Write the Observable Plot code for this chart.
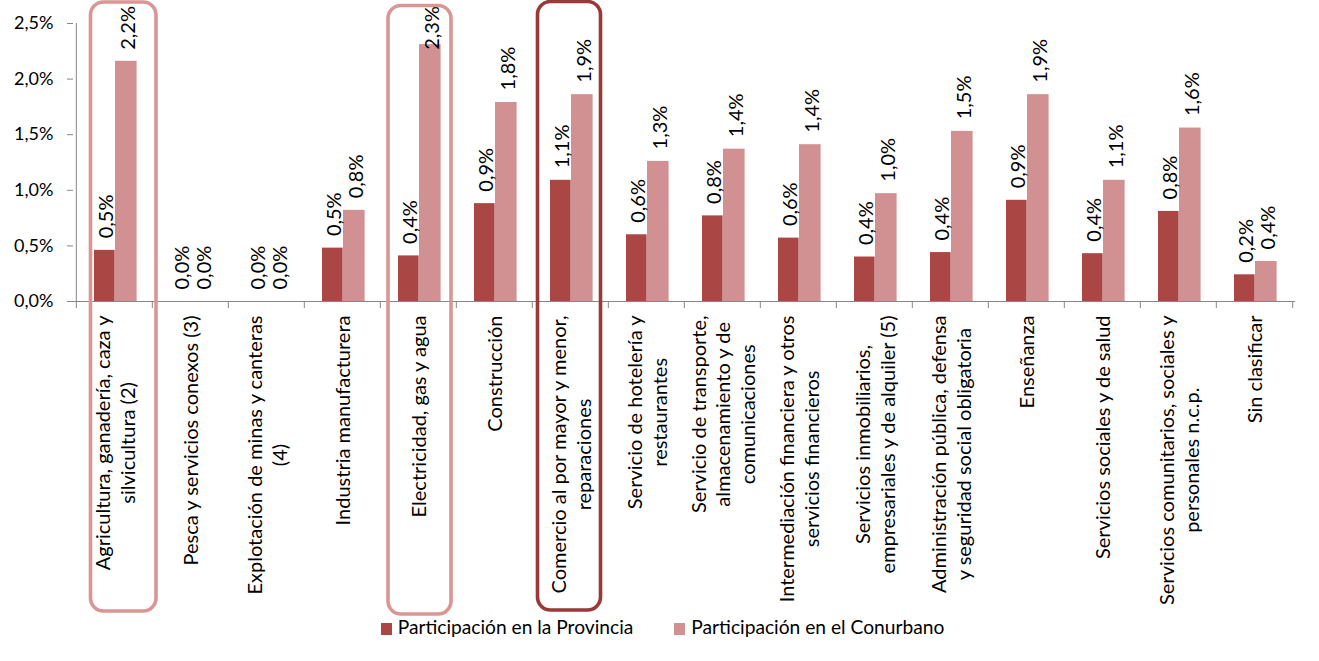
<!DOCTYPE html>
<html><head><meta charset="utf-8">
<script src="https://cdn.jsdelivr.net/npm/d3@7"></script>
<script src="https://cdn.jsdelivr.net/npm/@observablehq/plot@0.6"></script>
<style>
html,body{margin:0;padding:0;background:#fff;}
#chart{width:1319px;position:relative;}
.legend{display:flex;justify-content:center;gap:41px;padding-left:6px;margin-top:-5px;font-family:Lato,sans-serif;font-size:19.2px;line-height:24px;color:#000;}
.legend .item{display:flex;align-items:center;}
.legend .sw{width:11px;height:12px;margin-right:6px;position:relative;top:2px;}
</style></head><body>
<div id="chart"></div>
<script>
// ---- data ----
const categories = [
  "Agricultura, ganadería, caza y\nsilvicultura (2)",
  "Pesca y servicios conexos (3)",
  "Explotación de minas y canteras\n(4)",
  "Industria manufacturera",
  "Electricidad, gas y agua",
  "Construcción",
  "Comercio al por mayor y menor,\nreparaciones",
  "Servicio de hotelería y\nrestaurantes",
  "Servicio de transporte,\nalmacenamiento y de\ncomunicaciones",
  "Intermediación financiera y otros\nservicios financieros",
  "Servicios inmobiliarios,\nempresariales y de alquiler (5)",
  "Administración pública, defensa\ny seguridad social obligatoria",
  "Enseñanza",
  "Servicios sociales y de salud",
  "Servicios comunitarios, sociales y\npersonales n.c.p.",
  "Sin clasificar"
];
const provincia = [0.46, 0, 0, 0.48, 0.41, 0.88, 1.09, 0.60, 0.77, 0.57, 0.40, 0.44, 0.91, 0.43, 0.81, 0.24];
const conurbano = [2.16, 0, 0, 0.82, 2.31, 1.79, 1.86, 1.26, 1.37, 1.41, 0.97, 1.53, 1.86, 1.09, 1.56, 0.36];
const seriesNames = ["Participación en la Provincia", "Participación en el Conurbano"];
const yTicks = [0, 0.5, 1, 1.5, 2, 2.5];
const highlightIndex = [0, 4, 6];

// ---- styles / layout ----
const seriesColors = ["#AA4644", "#D19192"];
const boxColors = ["#D99694", "#D99694", "#993A38"];
const boxInsets = [
  {top: -21, bottom: -310, left: 14.5, right: -4},
  {top: -17.5, bottom: -313, left: 8, right: 5},
  {top: -21.5, bottom: -309, left: 5.5, right: 7.5}
];
const W = 1319, H = 620;
const mL = 73, mR = 24, mT = 23, yBase = 301;
const bw = (W - mL - mR) / categories.length;
const pxPerUnit = (yBase - mT) / 2.5;
const axisColor = "#868686";
const fmt = v => v.toFixed(1).replace(".", ",") + "%";

const prov = categories.map((c, i) => ({cat: c, value: provincia[i]}));
const conu = categories.map((c, i) => ({cat: c, value: conurbano[i]}));

const barSpec = [
  {data: prov, color: seriesColors[0], l: 18, r: 39},
  {data: conu, color: seriesColors[1], l: 39, r: 61}
];

const marks = [];
barSpec.forEach(s => {
  marks.push(Plot.barY(s.data, {x: "cat", y: "value", fill: s.color, insetLeft: s.l, insetRight: bw - s.r}));
});
barSpec.forEach(s => {
  marks.push(Plot.text(s.data, {x: "cat", y: "value", text: d => fmt(d.value), rotate: -90,
    textAnchor: "start", lineAnchor: "middle", dy: -12, dx: (s.l + s.r) / 2 - bw / 2 + 2, fontSize: 20, fill: "#000"}));
});
// axes lines
marks.push(Plot.ruleY([0], {stroke: axisColor, strokeWidth: 1}));
marks.push(Plot.ruleX([categories[0]], {y1: 0, y2: 2.5, dx: -bw / 2, stroke: axisColor}));
marks.push(Plot.ruleX(categories, {y1: 0, y2: -7 / pxPerUnit, dx: -bw / 2, stroke: axisColor}));
marks.push(Plot.ruleX([categories[categories.length - 1]], {y1: 0, y2: -7 / pxPerUnit, dx: bw / 2, stroke: axisColor}));
marks.push(Plot.axisY({ticks: yTicks, tickFormat: fmt, tickSize: 6, tickPadding: 14, stroke: axisColor, fill: "#000", fontSize: 18, label: null}));
// category labels
marks.push(Plot.text(categories, {x: d => d, text: d => d, frameAnchor: "bottom", dy: 14, rotate: -90,
  textAnchor: "end", lineAnchor: "middle", lineHeight: 1.22, fontSize: 20, fill: "#000"}));
// highlight boxes
highlightIndex.forEach((ci, k) => {
  const b = boxInsets[k];
  marks.push(Plot.cell([categories[ci]], {x: d => d, fill: "none", stroke: boxColors[k], strokeWidth: 3.6,
    rx: 13, insetTop: b.top, insetBottom: b.bottom, insetLeft: b.left, insetRight: b.right}));
});

const chart = Plot.plot({
  width: W, height: H,
  marginLeft: mL, marginRight: mR, marginTop: mT, marginBottom: H - yBase,
  x: {domain: categories, padding: 0, axis: null},
  y: {domain: [0, 2.5], axis: null},
  style: {fontFamily: "Lato, sans-serif", color: "#000", background: "#fff", overflow: "visible"},
  marks
});
const host = document.getElementById("chart");
host.appendChild(chart);

// center multi-line category labels on their longest line, keeping the block top-aligned
chart.querySelectorAll("text").forEach(t => {
  const spans = t.querySelectorAll("tspan");
  if (spans.length < 2) return;
  let maxW = 0;
  spans.forEach(s => { maxW = Math.max(maxW, s.getComputedTextLength()); });
  t.setAttribute("text-anchor", "middle");
  spans.forEach(s => s.setAttribute("x", -maxW / 2));
});

// keep data labels inside the chart area (as the spreadsheet does): push down if they overflow the top
const svgTop = chart.getBoundingClientRect().top;
chart.querySelectorAll("text").forEach(t => {
  if (t.querySelector("tspan")) return;
  const tr = t.getAttribute("transform") || "";
  if (!/rotate\(-90\)/.test(tr)) return;
  const r = t.getBoundingClientRect();
  const top = r.top - svgTop;
  if (top < 6) {
    const m = tr.match(/translate\(([^,]+),([^)]+)\)/);
    if (m) {
      const nx = parseFloat(m[1]), ny = parseFloat(m[2]) + (6 - top);
      t.setAttribute("transform", tr.replace(m[0], `translate(${nx},${ny})`));
    }
  }
});

// legend
const legend = document.createElement("div");
legend.className = "legend";
seriesNames.forEach((n, i) => {
  const it = document.createElement("div");
  it.className = "item";
  const sw = document.createElement("span");
  sw.className = "sw";
  sw.style.background = seriesColors[i];
  const tx = document.createElement("span");
  tx.textContent = n;
  it.appendChild(sw); it.appendChild(tx);
  legend.appendChild(it);
});
host.appendChild(legend);
</script>
</body></html>
